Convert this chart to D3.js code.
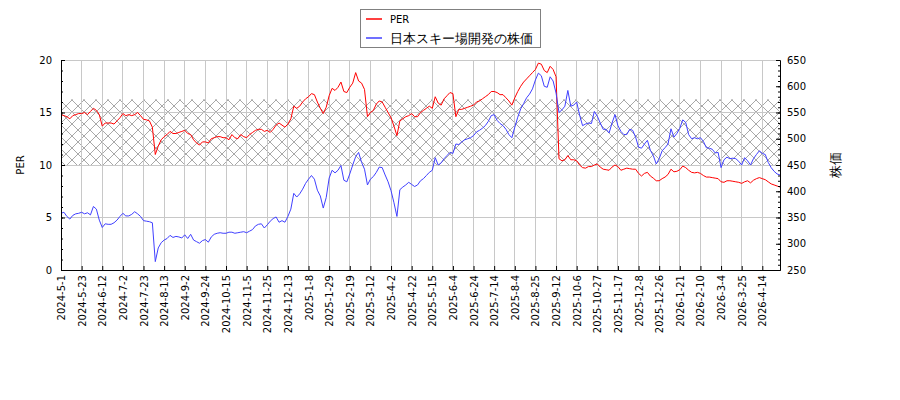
<!DOCTYPE html>
<html>
<head>
<meta charset="utf-8">
<script src="https://cdn.jsdelivr.net/npm/d3@7/dist/d3.min.js"></script>
<style>
  html, body { margin: 0; padding: 0; background: #fff; }
  svg { display: block; }
  text { font-family: "DejaVu Sans", sans-serif; }
</style>
</head>
<body>
<svg id="chart" width="900" height="400"></svg>
<script>
// ---- data (one value every 2 trading days) ----
const tickLabels = ["2024-5-1","2024-5-23","2024-6-12","2024-7-2","2024-7-23","2024-8-13","2024-9-2","2024-9-24","2024-10-15","2024-11-5","2024-11-25","2024-12-13","2025-1-8","2025-1-29","2025-2-19","2025-3-12","2025-4-2","2025-4-22","2025-5-15","2025-6-4","2025-6-24","2025-7-14","2025-8-4","2025-8-25","2025-9-12","2025-10-6","2025-10-27","2025-11-17","2025-12-8","2025-12-26","2026-1-21","2026-2-10","2026-3-4","2026-3-25","2026-4-14"];
const pointsPerTick = 7;

const perValues = [
  14.8,14.7,14.6,14.4,14.7,14.8,14.9,
  14.9,15.0,14.8,15.1,15.4,15.2,14.8,
  13.7,14.0,14.0,14.0,13.9,14.2,14.5,
  14.9,14.7,14.8,14.7,14.8,15.0,14.7,
  14.35,14.3,14.2,13.6,11.0,11.8,12.4,
  12.7,12.9,13.2,13.0,13.0,13.1,13.2,
  13.3,13.0,12.9,12.4,12.1,11.9,12.2,
  12.2,12.1,12.5,12.6,12.7,12.7,12.6,
  12.6,12.4,12.9,12.6,12.5,12.9,12.7,
  12.6,12.9,13.1,13.3,13.4,13.4,13.2,
  13.3,13.1,13.4,13.8,14.0,13.8,13.6,
  13.9,14.4,15.6,15.4,15.6,16.0,16.3,
  16.5,16.8,16.7,16.0,15.4,14.9,15.5,
  16.6,17.3,17.1,17.4,17.9,17.0,16.9,
  17.4,17.8,18.8,18.0,17.8,17.2,14.6,
  15.0,15.2,15.8,16.1,16.0,15.5,15.0,
  14.5,13.7,12.8,14.2,14.4,14.6,14.7,
  14.9,14.6,14.6,15.0,15.2,15.4,15.6,
  15.4,16.5,15.9,15.7,16.3,16.6,16.9,
  16.8,14.6,15.3,15.3,15.4,15.5,15.6,
  15.7,16.0,16.1,16.3,16.5,16.7,17.0,
  17.0,16.9,16.7,16.7,16.4,16.1,15.7,
  16.4,17.0,17.5,17.9,18.2,18.5,18.8,
  19.1,19.7,19.6,19.0,18.8,19.4,19.1,
  18.4,10.6,10.4,10.5,10.9,10.5,10.5,
  10.4,10.0,9.75,9.7,9.85,9.85,10.0,
  10.1,9.8,9.6,9.55,9.5,9.8,10.0,
  9.85,9.5,9.6,9.7,9.65,9.6,9.6,
  9.2,8.95,9.2,9.3,8.95,8.75,8.5,
  8.5,8.7,8.85,9.1,9.6,9.35,9.4,
  9.55,9.9,9.75,9.5,9.3,9.25,9.3,
  9.2,9.0,8.85,8.85,8.8,8.75,8.7,
  8.4,8.35,8.5,8.5,8.45,8.4,8.35,
  8.25,8.4,8.5,8.3,8.55,8.7,8.8,
  8.7,8.6,8.4,8.2,8.1,8.0,7.9
];

const priceValues = [
  358,360,352,347,354,357,358,
  360,357,359,355,371,366,345,
  331,338,337,337,340,345,352,
  358,353,353,356,361,357,352,
  344,343,342,340,266,292,302,
  307,310,316,312,314,313,311,
  317,310,318,307,304,301,306,
  308,303,313,318,320,321,320,
  320,322,322,320,321,322,323,
  321,324,327,334,337,338,330,
  336,343,348,351,341,344,341,
  352,366,396,389,395,404,415,
  423,430,423,402,391,368,388,
  425,440,435,440,449,421,418,
  433,450,466,474,455,442,412,
  423,428,436,446,445,431,418,
  401,378,352,403,408,412,417,
  413,409,412,420,424,430,436,
  440,464,450,454,462,468,474,
  472,490,489,494,498,500,502,
  506,513,516,520,525,533,544,
  546,535,529,525,518,508,502,
  522,541,557,567,578,585,595,
  612,625,620,600,598,618,610,
  587,550,555,562,592,562,564,
  570,545,525,528,530,529,552,
  543,530,518,518,511,530,546,
  525,514,508,508,518,516,503,
  484,482,490,497,478,468,452,
  462,477,483,490,519,503,510,
  520,536,531,508,500,502,500,
  502,495,483,482,480,473,474,
  445,460,465,462,463,462,457,
  450,464,458,450,462,470,477,
  472,470,455,445,438,433,431
];

const perTicks = [0, 5, 10, 15, 20];
const priceTicks = [250, 300, 350, 400, 450, 500, 550, 600, 650];
const bandRange = [10, 16.25];
const seriesNames = ["PER", "日本スキー場開発の株価"];

// ---- layout ----
const L = 61, R = 780, T = 60, B = 270;
const svg = d3.select("#chart");

const x = d3.scaleLinear().domain([0, perValues.length - 1]).range([L, R]);
const yL = d3.scaleLinear().domain([0, 20]).range([B, T]);
const yR = d3.scaleLinear().domain([250, 650]).range([B, T]);
const tickIdx = tickLabels.map((d, i) => i * pointsPerTick);

// hatch pattern
const defs = svg.append("defs");
const pat = defs.append("pattern").attr("id", "hatch")
  .attr("patternUnits", "userSpaceOnUse").attr("width", 12).attr("height", 12)
  .attr("x", 0).attr("y", 4);
pat.append("path").attr("d", "M0,0L12,12M0,12L12,0M-3,3L3,-3M9,15L15,9M-3,9L3,15M9,-3L15,3")
  .attr("stroke", "#a8a8a8").attr("stroke-width", 1).attr("fill", "none");

defs.append("clipPath").attr("id", "clip").append("rect")
  .attr("x", L).attr("y", T).attr("width", R - L).attr("height", B - T);

// band
svg.append("rect")
  .attr("x", L).attr("width", R - L)
  .attr("y", yL(bandRange[1])).attr("height", yL(bandRange[0]) - yL(bandRange[1]))
  .attr("fill", "url(#hatch)");

// grid
const grid = svg.append("g").attr("stroke", "#c8c8c8").attr("stroke-width", 1).attr("shape-rendering", "crispEdges");
grid.selectAll(".gx").data(tickIdx).join("line")
  .attr("x1", d => x(d)).attr("x2", d => x(d)).attr("y1", T).attr("y2", B);
grid.selectAll(".gy").data(perTicks).join("line")
  .attr("x1", L).attr("x2", R).attr("y1", d => yL(d)).attr("y2", d => yL(d));

// lines
const plot = svg.append("g").attr("clip-path", "url(#clip)");
plot.append("path").datum(perValues)
  .attr("d", d3.line().x((d, i) => x(i)).y(d => yL(d)))
  .attr("fill", "none").attr("stroke", "#ff0000").attr("stroke-width", 1);
plot.append("path").datum(priceValues)
  .attr("d", d3.line().x((d, i) => x(i)).y(d => yR(d)))
  .attr("fill", "none").attr("stroke", "#4040ff").attr("stroke-width", 1);

// axes
const fontSize = "10px";
const leftAxis = svg.append("g").attr("transform", `translate(${L},0)`)
  .call(d3.axisLeft(yL).tickValues(perTicks).tickSizeInner(-4).tickSizeOuter(0).tickPadding(9).tickFormat(d3.format("d")));
svg.append("g").attr("transform", `translate(${L},0)`)
  .call(d3.axisLeft(yL).tickValues(d3.range(0, 21, 1)).tickSizeInner(-2).tickSizeOuter(0).tickFormat(""));

const rightAxis = svg.append("g").attr("transform", `translate(${R},0)`)
  .call(d3.axisRight(yR).tickValues(priceTicks).tickSizeInner(-4).tickSizeOuter(0).tickPadding(7).tickFormat(d3.format("d")));
svg.append("g").attr("transform", `translate(${R},0)`)
  .call(d3.axisRight(yR).tickValues(d3.range(250, 651, 10)).tickSizeInner(-2).tickSizeOuter(0).tickFormat(""));

const bottomAxis = svg.append("g").attr("transform", `translate(0,${B})`)
  .call(d3.axisBottom(x).tickValues(tickIdx).tickSizeInner(-4).tickSizeOuter(0)
    .tickFormat((d, i) => tickLabels[i]));
bottomAxis.selectAll("text")
  .attr("transform", "rotate(-90)")
  .attr("text-anchor", "end")
  .attr("x", -5).attr("y", 0).attr("dy", "0.35em");

svg.selectAll(".tick text").attr("font-size", fontSize).attr("fill", "#000").attr("font-family", "DejaVu Sans");
svg.selectAll(".domain").attr("stroke", "#000");
svg.selectAll(".tick line").attr("stroke", "#000");

// axis titles
svg.append("text").attr("transform", "translate(20,165) rotate(-90)")
  .attr("text-anchor", "middle").attr("dominant-baseline", "central")
  .attr("font-size", "10px").text("PER");
svg.append("text").attr("transform", "translate(835,165) rotate(-90)")
  .attr("text-anchor", "middle").attr("dominant-baseline", "central")
  .attr("font-family", "Noto Sans CJK JP").attr("font-size", "13px").text("株価");

// legend
const lg = svg.append("g");
lg.append("rect").attr("x", 360.5).attr("y", 9.5).attr("width", 180).attr("height", 38)
  .attr("fill", "#fff").attr("stroke", "#808080").attr("stroke-width", 1);
const items = [
  { name: seriesNames[0], color: "#ff0000", y: 19, font: "DejaVu Sans", size: "10px" },
  { name: seriesNames[1], color: "#4040ff", y: 38, font: "Noto Sans CJK JP", size: "13px" }
];
items.forEach(it => {
  lg.append("line").attr("x1", 366).attr("x2", 382).attr("y1", it.y).attr("y2", it.y)
    .attr("stroke", it.color).attr("stroke-width", 1.5);
  lg.append("text").attr("x", 390).attr("y", it.y).attr("dominant-baseline", "central")
    .attr("font-family", it.font).attr("font-size", it.size).text(it.name);
});
</script>
</body>
</html>
